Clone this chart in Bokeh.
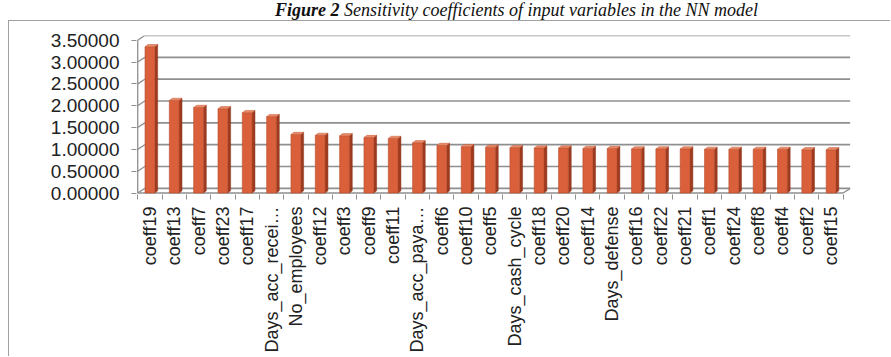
from bokeh.plotting import figure
from bokeh.models import (Range1d, FixedTicker, NumeralTickFormatter, ColumnDataSource, Div)
from bokeh.layouts import column
from bokeh.embed import file_html
from bokeh.resources import INLINE
import math

# ---- data ----
categories = ["coeff19", "coeff13", "coeff7", "coeff23", "coeff17", "Days_acc_recei\u2026",
              "No_employees", "coeff12", "coeff3", "coeff9", "coeff11", "Days_acc_paya\u2026",
              "coeff6", "coeff10", "coeff5", "Days_cash_cycle", "coeff18", "coeff20",
              "coeff14", "Days_defense", "coeff16", "coeff22", "coeff21", "coeff1",
              "coeff24", "coeff8", "coeff4", "coeff2", "coeff15"]
values = [3.35, 2.12, 1.96, 1.93, 1.84, 1.75, 1.34, 1.32, 1.31, 1.27, 1.25, 1.15,
          1.09, 1.06, 1.05, 1.04, 1.03, 1.03, 1.02, 1.02, 1.01, 1.01, 1.01, 1.00,
          1.00, 1.00, 1.00, 0.99, 0.99]
y_ticks = [0.0, 0.5, 1.0, 1.5, 2.0, 2.5, 3.0, 3.5]
title_bold = "Figure 2"
title_rest = "Sensitivity coefficients of input variables in the NN model"

# ---- geometry (3D look) ----
DX, DY = 0.29, 0.107      # depth offset of back wall
HALF = 0.2                # half width of front face
SX, SY = 0.12, 0.05       # bar side/top depth

n = len(categories)
xs = list(range(n))

p = figure(width=882, height=336, output_backend="svg", toolbar_location=None,
           x_range=Range1d(-0.55, n - 0.5 + DX + 0.01), y_range=Range1d(-0.034, 3.5 + DY),
           min_border_left=127, min_border_right=41, min_border_top=14, min_border_bottom=163,
           margin=(0, 0, 0, 8),
           styles={"border-left": "1.5px solid #a0a0a0", "border-top": "1.5px solid #a0a0a0"})
p.background_fill_color = "white"
p.border_fill_color = "white"
p.outline_line_color = None
p.grid.visible = False

# back wall gridlines
gx0 = [-0.5 + DX] * len(y_ticks)
gx1 = [n - 0.5 + DX] * len(y_ticks)
gy = [t + DY for t in y_ticks]
p.segment(x0=gx0, y0=gy, x1=gx1, y1=gy, line_color="#8f8f8f", line_width=1.6)
# left wall diagonals
p.segment(x0=[-0.5] * len(y_ticks), y0=y_ticks, x1=gx0, y1=gy, line_color="#8f8f8f", line_width=1.3)
# vertical axis line
p.segment(x0=[-0.5], y0=[0], x1=[-0.5], y1=[3.5], line_color="#8f8f8f", line_width=1.3)
# floor front line and right edge
p.segment(x0=[-0.5, n - 0.5], y0=[0, 0], x1=[n - 0.5, n - 0.5 + DX], y1=[0, DY],
          line_color="#8f8f8f", line_width=1.3)

# bars: front, side, top
front = ColumnDataSource(dict(x=xs, top=values))
side_xs, side_ys, top_xs, top_ys = [], [], [], []
for x, v in zip(xs, values):
    r = x + HALF
    l = x - HALF
    side_xs.append([r, r + SX, r + SX, r])
    side_ys.append([0, SY, v + SY, v])
    top_xs.append([l, r, r + SX, l + SX])
    top_ys.append([v, v, v + SY, v + SY])
p.patches(side_xs, side_ys, fill_color="#9e3a1f", line_color="#8a3219", line_width=0.5)
p.vbar(x="x", top="top", bottom=0, width=2 * HALF, source=front,
       fill_color="#d9603b", line_color="#b84c2c", line_width=0.6)
p.patches(top_xs, top_ys, fill_color="#e88a68", line_color="#c45a38", line_width=0.5)

# y axis
ya = p.yaxis[0]
ya.ticker = FixedTicker(ticks=y_ticks)
ya.formatter = NumeralTickFormatter(format="0.00000")
ya.axis_line_color = None
ya.major_tick_line_color = "#8f8f8f"
ya.major_tick_out = 5
ya.major_tick_in = 0
ya.minor_tick_line_color = None
ya.major_label_text_font = "Liberation Sans"
ya.major_label_text_font_size = "19px"
ya.major_label_text_color = "#222222"
ya.major_label_standoff = 12

# x axis
xa = p.xaxis[0]
xa.ticker = FixedTicker(ticks=xs, minor_ticks=[i - 0.5 for i in range(n + 1)])
xa.major_label_overrides = {i: c for i, c in enumerate(categories)}
xa.major_label_orientation = math.pi / 2
xa.axis_line_color = None
xa.major_tick_line_color = None
xa.minor_tick_line_color = "#8f8f8f"
xa.minor_tick_out = 5
xa.minor_tick_in = 0
xa.major_label_text_font = "Liberation Sans"
xa.major_label_text_font_size = "18px"
xa.major_label_text_color = "#222222"
xa.major_label_standoff = 6

# title
title_html = (
    '<div style="white-space:nowrap; padding-left:275px; '
    'font-family:\'Liberation Serif\', serif; font-style:italic; font-size:18px; '
    'line-height:20px; color:#111;"><b>' + title_bold + '</b> ' + title_rest + '</div>'
)
title = Div(text=title_html, width=891, height=20, margin=(0, 0, 0, 0))

layout = column(title, p, spacing=0)
open("out.html", "w").write(file_html(layout, INLINE))
